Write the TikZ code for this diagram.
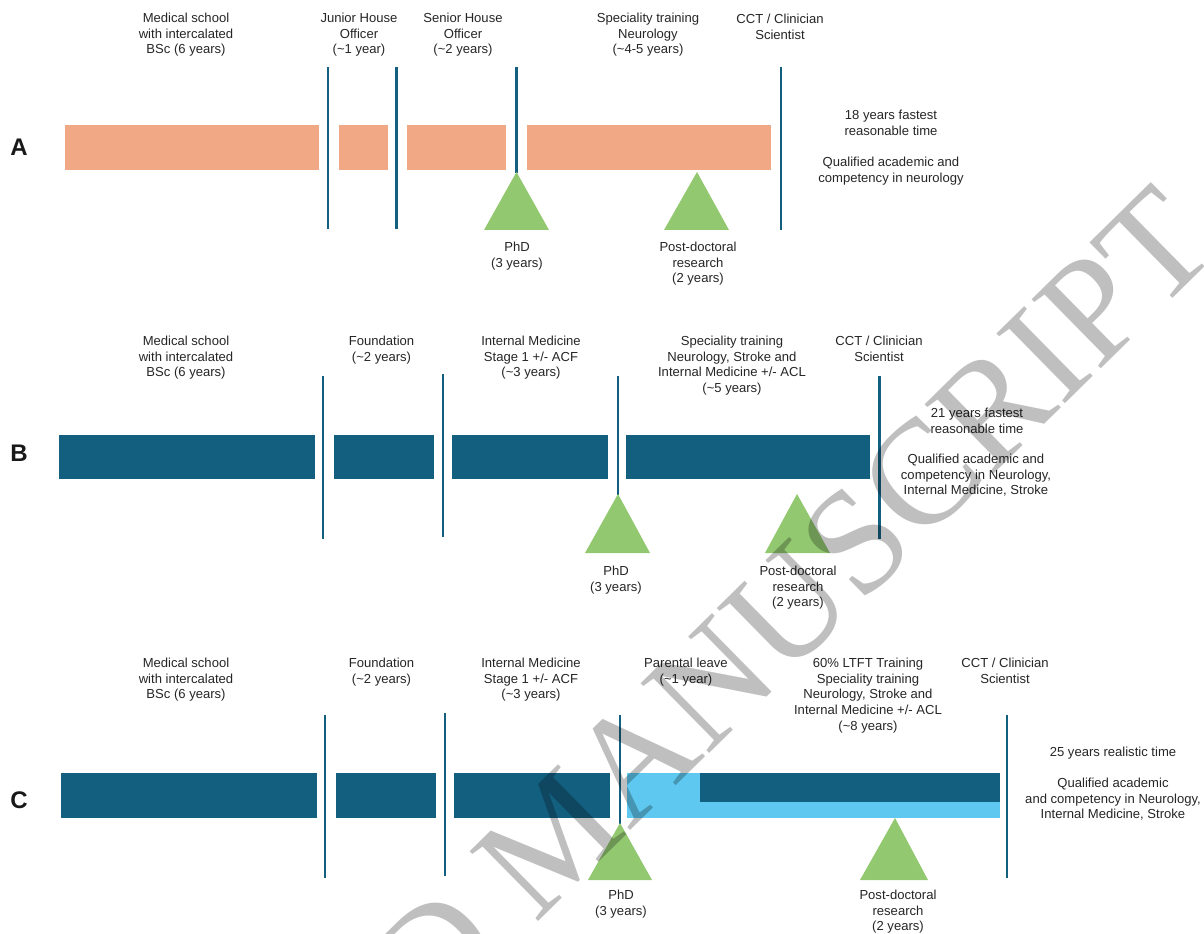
\documentclass[tikz,border=0pt]{standalone}
\usepackage{fontspec}
\setmainfont{Liberation Sans}
\newfontfamily\wmfont{Liberation Serif}
\definecolor{salmon}{HTML}{F0A984}
\definecolor{dblue}{HTML}{135F80}
\definecolor{lblue}{HTML}{5EC8F0}
\definecolor{lgreen}{HTML}{92C870}
\definecolor{txt}{HTML}{262626}
\begin{document}
\begin{tikzpicture}[x=0.75pt,y=-0.75pt,
  lbl/.style={align=center, anchor=north, inner sep=0pt, text=txt, font=\fontsize{9.8}{11.7}\selectfont},
  rowlbl/.style={inner sep=0pt, text=black!90, font=\bfseries\fontsize{18}{18}\selectfont},
  vline/.style={draw=dblue, line width=2.2pt},
  tri/.style={fill=lgreen},
  sbar/.style={fill=salmon},
  dbar/.style={fill=dblue},
  lbar/.style={fill=lblue},
  wm/.style={inner sep=0pt, text=black, text opacity=0.25, font=\wmfont\fontsize{112}{112}\selectfont}]
\useasboundingbox[fill=white] (0,0) rectangle (1204,934);

% ---------- Row A ----------
\node[rowlbl] (A) at (19,147) {A};
\fill[sbar] (65,125) rectangle (319,170);
\fill[sbar] (339,125) rectangle (388,170);
\fill[sbar] (407,125) rectangle (506,170);
\fill[sbar] (527,125) rectangle (771,170);
\draw[vline] (328,67) -- (328,229);
\draw[vline] (396.5,67) -- (396.5,229);
\draw[vline] (516.5,67) -- (516.5,173);
\draw[vline] (781,67) -- (781,230);
\fill[tri] (516.5,172) -- (549,230) -- (484,230) -- cycle;
\fill[tri] (697,172) -- (729,230) -- (664,230) -- cycle;
\node[lbl] (a1) at (186,13) {Medical school\\with intercalated\\BSc (6 years)};
\node[lbl] (a2) at (359,13) {Junior House\\Officer\\(\textasciitilde1 year)};
\node[lbl] (a3) at (463,13) {Senior House\\Officer\\(\textasciitilde2 years)};
\node[lbl] (a4) at (648,13) {Speciality training\\Neurology\\(\textasciitilde4-5 years)};
\node[lbl] (a5) at (780,14) {CCT / Clinician\\Scientist};
\node[lbl] (a6) at (517,242) {PhD\\(3 years)};
\node[lbl] (a7) at (698,242) {Post-doctoral\\research\\(2 years)};
\node[lbl] (a8) at (891,110) {18 years fastest\\reasonable time};
\node[lbl] (a9) at (891,157) {Qualified academic and\\competency in neurology};

% ---------- Row B ----------
\node[rowlbl] (B) at (19,453) {B};
\fill[dbar] (59,435) rectangle (315,479);
\fill[dbar] (334,435) rectangle (434,479);
\fill[dbar] (452,435) rectangle (608,479);
\fill[dbar] (626,435) rectangle (870,479);
\draw[vline] (323,376) -- (323,539);
\draw[vline] (443,374) -- (443,537);
\draw[vline] (618,376) -- (618,495);
\draw[vline] (879.5,376) -- (879.5,539);
\fill[tri] (618,494) -- (650,553) -- (585,553) -- cycle;
\fill[tri] (797,494) -- (830,553) -- (765,553) -- cycle;
\node[lbl] (b1) at (186,336) {Medical school\\with intercalated\\BSc (6 years)};
\node[lbl] (b2) at (381.5,336) {Foundation\\(\textasciitilde2 years)};
\node[lbl] (b3) at (531,336) {Internal Medicine\\Stage 1 +/- ACF\\(\textasciitilde3 years)};
\node[lbl] (b4) at (732,336) {Speciality training\\Neurology, Stroke and\\Internal Medicine +/- ACL\\(\textasciitilde5 years)};
\node[lbl] (b5) at (879,336) {CCT / Clinician\\Scientist};
\node[lbl] (b6) at (616,566) {PhD\\(3 years)};
\node[lbl] (b7) at (798,566) {Post-doctoral\\research\\(2 years)};
\node[lbl] (b8) at (977,408) {21 years fastest\\reasonable time};
\node[lbl] (b9) at (976,454) {Qualified academic and\\competency in Neurology,\\Internal Medicine, Stroke};

% ---------- Row C ----------
\node[rowlbl] (C) at (19,800) {C};
\fill[dbar] (61,773) rectangle (316.5,818);
\fill[dbar] (336,773) rectangle (435.5,818);
\fill[dbar] (454,773) rectangle (610,818);
\fill[lbar] (627,773) rectangle (1000,818);
\fill[dbar] (699.5,773) rectangle (1000,802);
\draw[vline] (325,715) -- (325,878);
\draw[vline] (445,713) -- (445,876);
\draw[vline] (620,715) -- (620,824);
\draw[vline] (1007,715) -- (1007,878);
\fill[tri] (620,823) -- (652,880) -- (588,880) -- cycle;
\fill[tri] (895,818) -- (928,880) -- (860,880) -- cycle;
\node[lbl] (c1) at (186,658) {Medical school\\with intercalated\\BSc (6 years)};
\node[lbl] (c2) at (381.5,658) {Foundation\\(\textasciitilde2 years)};
\node[lbl] (c3) at (531,658) {Internal Medicine\\Stage 1 +/- ACF\\(\textasciitilde3 years)};
\node[lbl] (c4) at (686,658) {Parental leave\\(\textasciitilde1 year)};
\node[lbl] (c5) at (868,658) {60\% LTFT Training\\Speciality training\\Neurology, Stroke and\\Internal Medicine +/- ACL\\(\textasciitilde8 years)};
\node[lbl] (c6) at (1005,658) {CCT / Clinician\\Scientist};
\node[lbl] (c7) at (621,890) {PhD\\(3 years)};
\node[lbl] (c8) at (898,890) {Post-doctoral\\research\\(2 years)};
\node[lbl] (c9) at (1113,747) {25 years realistic time};
\node[lbl] (c10) at (1113,778) {Qualified academic\\and competency in Neurology,\\Internal Medicine, Stroke};

% ---------- watermark ----------
\begin{scope}
\clip (0,0) rectangle (1204,934);
\node[wm, anchor=base east, rotate=44.5] (wmark) at (1222,250) {ACCEPTED MANUSCRIPT};
\end{scope}
\end{tikzpicture}
\end{document}
